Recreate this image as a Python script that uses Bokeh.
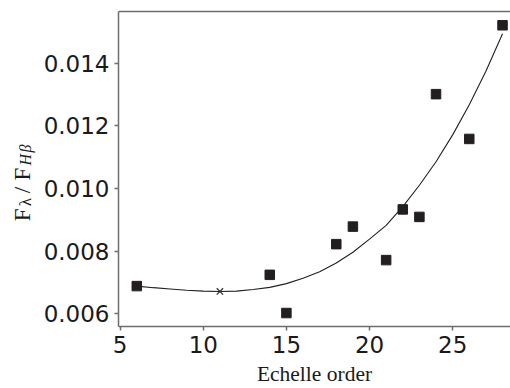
import numpy as np
from bokeh.plotting import figure
from bokeh.layouts import row
from bokeh.models import Range1d, FixedTicker, PrintfTickFormatter, LinearAxis
from bokeh.core.properties import value
from bokeh.embed import file_html
from bokeh.resources import INLINE

# Measured points (Echelle order vs flux ratio)
orders = [6, 14, 15, 18, 19, 21, 22, 23, 24, 26, 28]
ratios = [0.00688, 0.00724, 0.00602, 0.00822, 0.00878, 0.00771, 0.00933, 0.00909, 0.01301, 0.01158, 0.01521]

# Interpolated point (cross)
cross_order = [11]
cross_ratio = [0.00671]

# Fitted curve
fit_order = [6, 7, 8, 9, 10, 11, 12, 13, 14, 15, 16, 17, 18, 19, 20, 21, 22, 23, 24, 25, 26, 27, 28]
fit_ratio = [0.00688, 0.00683, 0.00679, 0.00675, 0.00672, 0.00671, 0.00672, 0.00677, 0.00684,
             0.00696, 0.00713, 0.00734, 0.00762, 0.00796, 0.00838, 0.00882, 0.00942, 0.01010,
             0.01085, 0.01171, 0.01267, 0.01374, 0.01494]

x_ticks = [5, 10, 15, 20, 25]
y_ticks = [0.006, 0.008, 0.010, 0.012, 0.014]

INK = "#231f20"
TXT = "#1a1a1a"
SPINE = "#6e6e6e"

p = figure(width=470, height=388, output_backend="svg", toolbar_location=None,
           x_range=Range1d(4.9, 28.48), y_range=Range1d(0.00559, 0.01565),
           min_border_left=77, min_border_right=0, min_border_top=11, min_border_bottom=60)
p.outline_line_color = None
p.grid.visible = False

p.line(fit_order, fit_ratio, line_color=INK, line_width=1.1)
p.scatter(orders, ratios, marker="square", size=9.5, fill_color=INK, line_color=INK)
p.scatter(cross_order, cross_ratio, marker="x", size=9, line_color="#333333", line_width=1.3)

for ax in (p.xaxis[0], p.yaxis[0]):
    ax.axis_line_color = SPINE
    ax.axis_line_width = 1.5
    ax.major_tick_line_color = SPINE
    ax.major_tick_line_width = 1.5
    ax.major_tick_in = 0
    ax.major_tick_out = 4
    ax.minor_tick_line_color = None
    ax.major_label_text_font = "DejaVu Sans"
    ax.major_label_text_font_size = "23px"
    ax.major_label_text_color = TXT
    ax.major_label_standoff = 5

p.xaxis.ticker = FixedTicker(ticks=x_ticks)
p.yaxis.ticker = FixedTicker(ticks=y_ticks)
p.yaxis.formatter = PrintfTickFormatter(format="%.3f")

p.xaxis.axis_label = "Echelle order"
p.xaxis.axis_label_text_font = "Liberation Serif"
p.xaxis.axis_label_text_font_style = "normal"
p.xaxis.axis_label_text_font_size = "21.5px"
p.xaxis.axis_label_text_color = TXT
p.xaxis.axis_label_standoff = 6

# top spine
top = LinearAxis(axis_line_color=SPINE, axis_line_width=1.5, major_tick_line_color=None,
                 minor_tick_line_color=None, major_label_text_font_size="0px",
                 major_label_standoff=0, ticker=FixedTicker(ticks=[]))
p.add_layout(top, "above")

# y axis label F_lambda / F_{H beta}, drawn in a narrow side panel whose frame
# is aligned with the main frame (page rows 11..328)
q = figure(width=40, height=388, output_backend="svg", toolbar_location=None,
           x_range=Range1d(0, 40), y_range=Range1d(388 - 328, 388 - 11),
           x_axis_type=None, y_axis_type=None,
           min_border_left=0, min_border_right=0, min_border_top=11, min_border_bottom=60)
q.grid.visible = False
q.outline_line_color = None

pieces = [
    ("F", 22, 222, "23px", "normal"),
    ("\u03bb", 25, 207, "17px", "normal"),
    ("/", 22, 194, "23px", "normal"),
    ("F", 22, 181, "23px", "normal"),
    ("H", 25, 166, "16px", "italic"),
    ("\u03b2", 25, 153, "16px", "italic"),
]
for txt, px, py, fs, st in pieces:
    q.text(x=[px], y=[388 - py], text=[txt], angle=np.pi / 2,
           text_font=value("Liberation Serif"), text_font_size=fs, text_font_style=st,
           text_color=TXT, text_align="left", text_baseline="alphabetic")

layout = row(q, p, spacing=0)
open("out.html", "w").write(file_html(layout, INLINE))
